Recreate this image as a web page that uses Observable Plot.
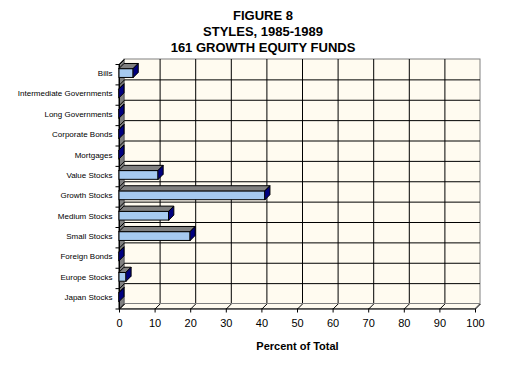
<!DOCTYPE html>
<html>
<head>
<meta charset="utf-8">
<script src="https://cdn.jsdelivr.net/npm/d3@7"></script>
<script src="https://cdn.jsdelivr.net/npm/@observablehq/plot@0.6"></script>
<style>
  html, body { margin: 0; padding: 0; background: #ffffff; }
  #wrap { width: 505px; height: 383px; overflow: hidden; }
  #title { box-sizing: border-box; width: 505px; height: 56px; padding: 8px 0 0 21px;
    text-align: center; font: bold 13px "Liberation Sans", Arial, sans-serif; line-height: 16px; color: #000; }
  svg { display: block; }
</style>
</head>
<body>
<div id="wrap">
  <div id="title"></div>
  <div id="chart"></div>
</div>
<script>
const titleLines = ["FIGURE 8", "STYLES, 1985-1989", "161 GROWTH EQUITY FUNDS"];
const categories = ["Bills", "Intermediate Governments", "Long Governments", "Corporate Bonds",
  "Mortgages", "Value Stocks", "Growth Stocks", "Medium Stocks", "Small Stocks",
  "Foreign Bonds", "Europe Stocks", "Japan Stocks"];
const values = [4, 0, 0, 0, 0, 11, 41, 14, 20, 0, 2, 0];
const xTicks = [0, 10, 20, 30, 40, 50, 60, 70, 80, 90, 100];
const xLabel = "Percent of Total";

document.getElementById("title").innerHTML = titleLines.join("<br>");

const W = 505, H = 327, ML = 119, MR = 30, MT = 8, MB = 74.5;
const DEPTH = 5;
const n = categories.length;
const pxX = (W - ML - MR) / 100;
const pxY = (H - MT - MB) / n;
const ox = DEPTH / pxX;
const oy = DEPTH / pxY;
const bTop = 0.22, bBot = 0.66;

const bars = categories.map((c, i) => ({c, i, v: values[i]}));
const topFaces = bars.flatMap(d => [
  {c: d.c, y: d.i + bTop, x1: 0, x2: d.v},
  {c: d.c, y: d.i + bTop - oy, x1: ox, x2: d.v + ox}
]);
const sideFaces = bars.flatMap(d => [
  {c: d.c, x: d.v, y1: d.i + bTop, y2: d.i + bBot},
  {c: d.c, x: d.v + ox, y1: d.i + bTop - oy, y2: d.i + bBot - oy}
]);
const floor = [{y: n, x1: 0, x2: 100}, {y: n - oy, x1: ox, x2: 100 + ox}];
const leftWall = [{x: 0, y1: 0, y2: n}, {x: ox, y1: -oy, y2: n - oy}];
const bounds = d3.range(0, n + 1);
const font = "Liberation Sans, Arial, sans-serif";

const chart = Plot.plot({
  width: W, height: H,
  marginLeft: ML, marginRight: MR, marginTop: MT, marginBottom: MB,
  x: {domain: [0, 100], range: [ML, W - MR], axis: null},
  y: {domain: [0, n], range: [MT, H - MB], axis: null},
  style: {fontFamily: font, background: "white", overflow: "visible", color: "black"},
  marks: [
    // back wall
    Plot.rect([0], {x1: 0, x2: 100, y1: 0, y2: n, dx: DEPTH, dy: -DEPTH, fill: "#FFFBF0", stroke: "#808080"}),
    Plot.ruleX(xTicks.slice(1, -1), {x: d => d, y1: 0, y2: n, dx: DEPTH, dy: -DEPTH, stroke: "black"}),
    Plot.ruleY(bounds.slice(1), {y: d => d, x1: 0, x2: 100, dx: DEPTH, dy: -DEPTH, stroke: "black"}),
    // floor
    Plot.areaX(floor, {y: "y", x1: "x1", x2: "x2", fill: "#FFFBF0", stroke: "#808080", curve: "linear"}),
    Plot.link(xTicks, {x1: d => d, y1: n, x2: d => d + ox, y2: n - oy, stroke: "black"}),
    // left wall
    Plot.areaY(leftWall, {x: "x", y1: "y1", y2: "y2", fill: "#808080", stroke: "#606060", curve: "linear"}),
    Plot.link(bounds, {x1: 0, y1: d => d, x2: ox, y2: d => d - oy, stroke: "black"}),
    // axes lines & ticks
    Plot.ruleX([0], {x: 0, y1: 0, y2: n, stroke: "black"}),
    Plot.ruleY([n], {y: n, x1: 0, x2: 100, stroke: "black"}),
    Plot.link(bounds, {x1: -4 / pxX, x2: 0, y1: d => d, y2: d => d, stroke: "black"}),
    Plot.ruleX(xTicks, {x: d => d, y1: n, y2: n + 4 / pxY, stroke: "black"}),
    // bars
    Plot.rect(bars, {x1: 0, x2: "v", y1: d => d.i + bTop, y2: d => d.i + bBot, fill: "#A6CAF0", stroke: "black"}),
    Plot.areaX(topFaces, {z: "c", y: "y", x1: "x1", x2: "x2", fill: "#808080", stroke: "black", curve: "linear"}),
    Plot.areaY(sideFaces, {z: "c", x: "x", y1: "y1", y2: "y2", fill: "#000080", stroke: "black", curve: "linear"}),
    // labels
    Plot.text(categories, {x: 0, y: (d, i) => i + 0.44, text: d => d, textAnchor: "end", dx: -7, fontSize: 8, fill: "black"}),
    Plot.text(xTicks, {x: d => d, y: n, dy: 14.5, text: d => String(d), fontSize: 11, fill: "black"}),
    Plot.text([xLabel], {x: 50, y: n, dy: 37.5, text: d => d, fontSize: 11, fontWeight: "bold", fill: "black"})
  ]
});
document.getElementById("chart").appendChild(chart);
</script>
</body>
</html>
